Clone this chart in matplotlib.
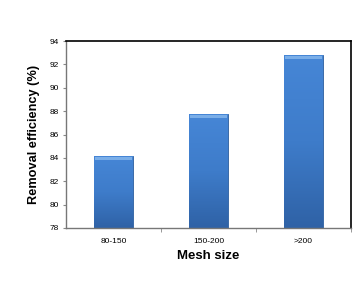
import numpy as np
import matplotlib.pyplot as plt
from matplotlib.colors import LinearSegmentedColormap

plt.rcParams['font.family'] = ['Liberation Sans', 'DejaVu Sans']

categories = ['80-150', '150-200', '>200']
efficiency = [84.15, 87.75, 92.8]
yticks = [78, 80, 82, 84, 86, 88, 90, 92, 94]

fig = plt.figure(figsize=(3.63, 2.83), dpi=100)
ax = fig.add_axes([66 / 363, 1 - 228 / 283, (351 - 66) / 363, (228 - 41) / 283])

x = np.arange(len(categories))
bars = ax.bar(x, efficiency, width=0.41, color='#3a77c6', edgecolor='#2c5f9e',
              linewidth=0.6, zorder=2)

# vertical shading inside each bar, darker toward the base
grad = LinearSegmentedColormap.from_list('g', ['#2f62a6', '#3e7cca', '#4686d6'])
for b in bars:
    x0, w, h = b.get_x(), b.get_width(), b.get_height()
    im = ax.imshow(np.linspace(0, 1, 100).reshape(-1, 1), cmap=grad, aspect='auto',
                   origin='lower', extent=[x0, x0 + w, 78, h], zorder=2.5)
    im.set_clip_path(b)
# light top highlight on each bar
ax.bar(x, [0.22] * 3, width=0.39, bottom=np.array(efficiency) - 0.3,
       color='#7aaee8', linewidth=0, zorder=3)

ax.set_xlim(-0.5, 2.5)
ax.set_ylim(78, 94)
ax.set_yticks(yticks)
ax.set_yticklabels([str(t) for t in yticks], fontsize=6)
ax.set_xticks(x)
ax.set_xticklabels(categories, fontsize=6)
ax.set_xticks([0.5, 1.5, 2.5], minor=True)
ax.tick_params(axis='x', which='major', length=0, pad=7)
ax.tick_params(axis='x', which='minor', length=3, color='#888888')
ax.tick_params(axis='y', length=2, color='#888888', pad=3)

for s in ['top', 'right']:
    ax.spines[s].set_color('black')
    ax.spines[s].set_linewidth(1.2)
for s in ['left', 'bottom']:
    ax.spines[s].set_color('#777777')
    ax.spines[s].set_linewidth(1.0)

ax.set_xlabel('Mesh size', fontsize=9.5, fontweight='bold', labelpad=4)
ax.set_ylabel('Removal efficiency (%)', fontsize=9.2, fontweight='bold', labelpad=7)

fig.savefig('out.png', dpi=100)
